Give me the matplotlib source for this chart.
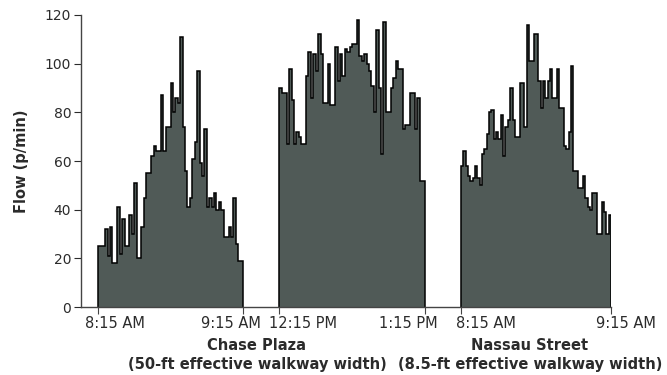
#--Importing--#
import matplotlib
matplotlib.use("Agg")
import numpy as np
import matplotlib.pyplot as plt

#--1. Data (flow per bar, p/min)--#
chase_am = [25, 25, 25, 32, 21, 33, 18, 18, 41, 22,
            36, 25, 25, 38, 30, 51, 20, 20, 33, 45,
            55, 55, 62, 66, 64, 64, 87, 64, 74, 74,
            92, 80, 86, 84, 111, 74, 56, 41, 45, 61,
            68, 97, 59, 54, 73, 41, 45, 41, 47, 40,
            43, 40, 29, 29, 33, 29, 45, 26, 19, 19]
chase_pm = [90, 88, 88, 67, 98, 85, 67, 72, 70, 67,
            67, 95, 105, 86, 104, 97, 112, 104, 84, 84,
            100, 83, 83, 107, 93, 104, 95, 106, 105, 107,
            108, 108, 118, 103, 101, 104, 100, 97, 91, 80,
            114, 90, 63, 117, 80, 80, 90, 94, 101, 98,
            98, 73, 75, 75, 88, 88, 73, 86, 52, 52]
nassau_am = [58, 64, 58, 54, 52, 53, 58, 53, 50, 63,
             65, 71, 80, 81, 69, 72, 69, 79, 62, 74,
             77, 90, 77, 70, 70, 92, 92, 74, 116, 101,
             101, 112, 112, 93, 82, 93, 86, 93, 98, 86,
             86, 98, 82, 82, 66, 65, 72, 99, 56, 56,
             49, 49, 54, 45, 41, 40, 47, 47, 30, 30,
             43, 39, 30, 38]

series = [chase_am, chase_pm, nassau_am]
start_labels = ["8:15 AM", "12:15 PM", "8:15 AM"]
end_labels = ["9:15 AM", "1:15 PM", "9:15 AM"]
site_names = ["Chase Plaza", "Nassau Street"]
site_notes = ["(50-ft effective walkway width)", "(8.5-ft effective walkway width)"]
y_ticks = [0, 20, 40, 60, 80, 100, 120]

#--2. Layout--#
group_start = [0, 75, 150]
group_width = [60, 60, 62]
start_off = [7, 9.7, 10.3]     # label centre offsets from group start
end_off = [-5, -6.9, 6.2]      # label centre offsets from group end
site_x = [65.7, 178.5]
fill_col = "#505a57"
text_col = "#2b2b2b"

fig = plt.figure(figsize=(6.67, 3.75), dpi=100)
ax = fig.add_axes([0.1214, 0.181, 0.7946, 0.779])

#--3. Draw the step histograms--#
for vals, x0, w in zip(series, group_start, group_width):
    edges = np.linspace(x0, x0 + w, len(vals) + 1)
    ax.stairs(vals, edges, fill=True, color=fill_col, lw=0)
    ax.stairs(vals, edges, baseline=0, color="black", lw=1.1)

ax.set_xlim(-7.0, 212)
ax.set_ylim(0, 120)

for s in ["top", "right"]:
    ax.spines[s].set_visible(False)
for s in ["left", "bottom"]:
    ax.spines[s].set_color("#444444")
    ax.spines[s].set_linewidth(1.0)

ax.set_yticks(y_ticks)
ax.tick_params(axis="y", labelsize=10, colors=text_col, length=5, width=0.8, pad=2)
ax.set_ylabel("Flow (p/min)", fontsize=10.5, fontweight="bold", color=text_col)
ax.yaxis.set_label_coords(-0.098, 0.5)

bounds = group_start + [g + w for g, w in zip(group_start, group_width)]
ax.set_xticks(sorted(bounds))
ax.set_xticklabels([])
ax.tick_params(axis="x", length=5, width=0.8, colors="#444444")

#--4. Tick and site labels--#
tr = ax.get_xaxis_transform()
for i in range(3):
    x0, w = group_start[i], group_width[i]
    ax.text(x0 + start_off[i], -0.055, start_labels[i], transform=tr, ha="center", va="center",
            fontsize=10.5, color=text_col, clip_on=False)
    ax.text(x0 + w + end_off[i], -0.055, end_labels[i], transform=tr, ha="center", va="center",
            fontsize=10.5, color=text_col, clip_on=False)

for name, note, x in zip(site_names, site_notes, site_x):
    ax.text(x, -0.13, name, transform=tr, ha="center", va="center",
            fontsize=10.5, fontweight="bold", color=text_col, clip_on=False)
    ax.text(x, -0.195, note, transform=tr, ha="center", va="center",
            fontsize=10.5, fontweight="bold", color=text_col, clip_on=False)

fig.savefig("out.png", dpi=100)
